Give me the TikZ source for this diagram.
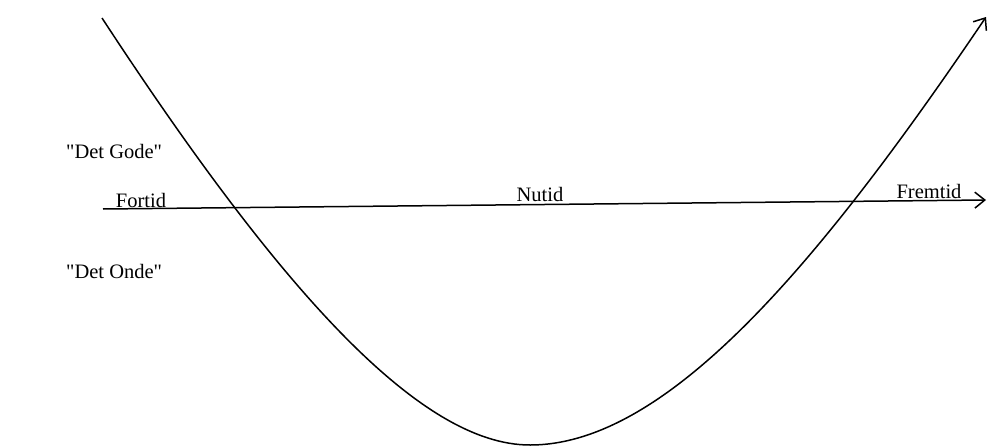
\documentclass[tikz,border=0pt]{standalone}
\usepackage{fontspec}
\setmainfont{Liberation Serif}
\usetikzlibrary{positioning, arrows.meta}

\begin{document}
\begin{tikzpicture}[
  x=1pt, y=-1pt,
  every node/.style={font=\fontsize{20.5}{24}\selectfont, inner sep=0pt},
  tidlabel/.style={anchor=base},
  sidelabel/.style={anchor=base west},
  arrow/.style={-{Straight Barb[length=10pt, width=16pt]}, line width=1.5pt}
]
\useasboundingbox (0,0) rectangle (988,447);

% Axis: past -> future
\coordinate (axstart) at (103,209);
\coordinate (axend) at (986,200);
\draw[arrow] (axstart) -- (axend);

% Curve
\coordinate (top) at (102,18);
\coordinate (bund) at (530,445);
\coordinate (slut) at (986,17);
\draw[arrow] (top) .. controls (280,290) and (420,445) .. (bund)
  .. controls (665,445) and (815,270) .. (slut);

% Time labels
\node[tidlabel] (fortid) at (141,207) {Fortid};
\node[tidlabel] (nutid) at (540,201) {Nutid};
\node[tidlabel] (fremtid) at (929,198) {Fremtid};

% Good / evil
\node[sidelabel] (gode) at (66,158) {\textquotedbl Det Gode\textquotedbl};
\node[sidelabel] (onde) at (66,278) {\textquotedbl Det Onde\textquotedbl};

\end{tikzpicture}
\end{document}
